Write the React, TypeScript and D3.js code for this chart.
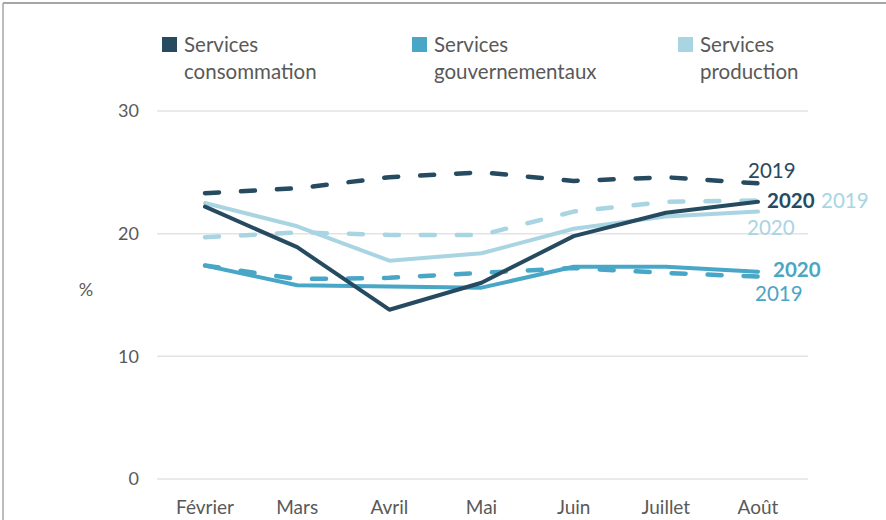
import { useEffect, useRef } from "react";
import * as d3 from "d3";

const months = ["Février", "Mars", "Avril", "Mai", "Juin", "Juillet", "Août"];

const conso2020 = [22.2, 18.9, 13.8, 16.0, 19.8, 21.7, 22.6];
const conso2019 = [23.3, 23.7, 24.6, 25.0, 24.3, 24.6, 24.1];
const gouv2020 = [17.4, 15.8, 15.7, 15.6, 17.3, 17.3, 16.9];
const gouv2019 = [17.4, 16.3, 16.4, 16.8, 17.2, 16.8, 16.5];
const prod2020 = [22.5, 20.6, 17.8, 18.4, 20.4, 21.4, 21.8];
const prod2019 = [19.7, 20.1, 19.9, 19.9, 21.8, 22.6, 22.7];

const yTicks = [0, 10, 20, 30];

const DARK = "#264a60";
const MID = "#48a6c6";
const LIGHT = "#a9d5e3";
const TEXT = "#595959";
const FONT = "Lato, 'Open Sans', sans-serif";

export default function App() {
  const svgRef = useRef<SVGSVGElement>(null);
  const width = 886;
  const height = 520;

  useEffect(() => {
    document.body.style.margin = "0";
    const svg = d3.select(svgRef.current);
    svg.selectAll("*").remove();

    const x = d3.scalePoint().domain(months).range([205, 758]);
    const y = d3.scaleLinear().domain([0, 30]).range([479, 111]);

    // frame
    svg.append("line").attr("x1", 3).attr("x2", width).attr("y1", 3).attr("y2", 3)
      .attr("stroke", "#a6a6a6").attr("stroke-width", 2);
    svg.append("line").attr("x1", 3).attr("x2", 3).attr("y1", 3).attr("y2", height)
      .attr("stroke", "#a6a6a6").attr("stroke-width", 1.5);

    // gridlines + y labels
    yTicks.forEach((t) => {
      svg.append("line").attr("x1", 157).attr("x2", 808)
        .attr("y1", y(t)).attr("y2", y(t))
        .attr("stroke", "#e3e3e3").attr("stroke-width", 1.5);
      svg.append("text").attr("x", 139).attr("y", y(t)).attr("dy", "0.35em")
        .attr("text-anchor", "end").attr("fill", TEXT)
        .style("font-family", FONT).style("font-size", "18px").text(t);
    });

    svg.append("text").attr("x", 86).attr("y", 290).attr("dy", "0.35em")
      .attr("text-anchor", "middle").attr("fill", TEXT)
      .style("font-family", FONT).style("font-size", "18px").text("%");

    // x labels
    months.forEach((m) => {
      svg.append("text").attr("x", x(m)!).attr("y", 507).attr("dy", "0.35em")
        .attr("text-anchor", "middle").attr("fill", TEXT)
        .style("font-family", FONT).style("font-size", "19px").text(m);
    });

    const line = d3.line<number>()
      .x((_, i) => x(months[i])!)
      .y((d) => y(d));

    const series = [
      { data: prod2019, color: LIGHT, dashed: true },
      { data: gouv2019, color: MID, dashed: true },
      { data: conso2019, color: DARK, dashed: true },
      { data: prod2020, color: LIGHT, dashed: false },
      { data: gouv2020, color: MID, dashed: false },
      { data: conso2020, color: DARK, dashed: false },
    ];

    series.forEach((s) => {
      svg.append("path").attr("d", line(s.data)!)
        .attr("fill", "none").attr("stroke", s.color)
        .attr("stroke-width", s.dashed ? 4.5 : 4)
        .attr("stroke-linecap", "round")
        .attr("stroke-linejoin", "round")
        .attr("stroke-dasharray", s.dashed ? "14 22" : null);
    });

    // end labels
    const endLabels = [
      { text: "2019", x: 748, y: 171, color: DARK, bold: false },
      { text: "2020", x: 767, y: 201, color: DARK, bold: true },
      { text: "2019", x: 821, y: 201, color: LIGHT, bold: false },
      { text: "2020", x: 747, y: 228, color: LIGHT, bold: false },
      { text: "2020", x: 773, y: 270, color: MID, bold: true },
      { text: "2019", x: 755, y: 294, color: MID, bold: false },
    ];
    endLabels.forEach((l) => {
      svg.append("text").attr("x", l.x).attr("y", l.y).attr("dy", "0.35em")
        .attr("fill", l.color).style("font-family", FONT).style("font-size", "20.5px")
        .style("font-weight", l.bold ? "bold" : "normal").text(l.text);
    });

    // legend
    const legend = [
      { lines: ["Services", "consommation"], color: DARK, x: 162 },
      { lines: ["Services", "gouvernementaux"], color: MID, x: 412 },
      { lines: ["Services", "production"], color: LIGHT, x: 678 },
    ];
    legend.forEach((l) => {
      svg.append("rect").attr("x", l.x).attr("y", 37).attr("width", 15).attr("height", 15)
        .attr("fill", l.color);
      l.lines.forEach((t, i) => {
        svg.append("text").attr("x", l.x + 22).attr("y", 45 + i * 27).attr("dy", "0.35em")
          .attr("fill", TEXT).style("font-family", FONT).style("font-size", "20.5px").text(t);
      });
    });
  }, []);

  return <svg ref={svgRef} width={width} height={height} style={{ display: "block" }}></svg>;
}
